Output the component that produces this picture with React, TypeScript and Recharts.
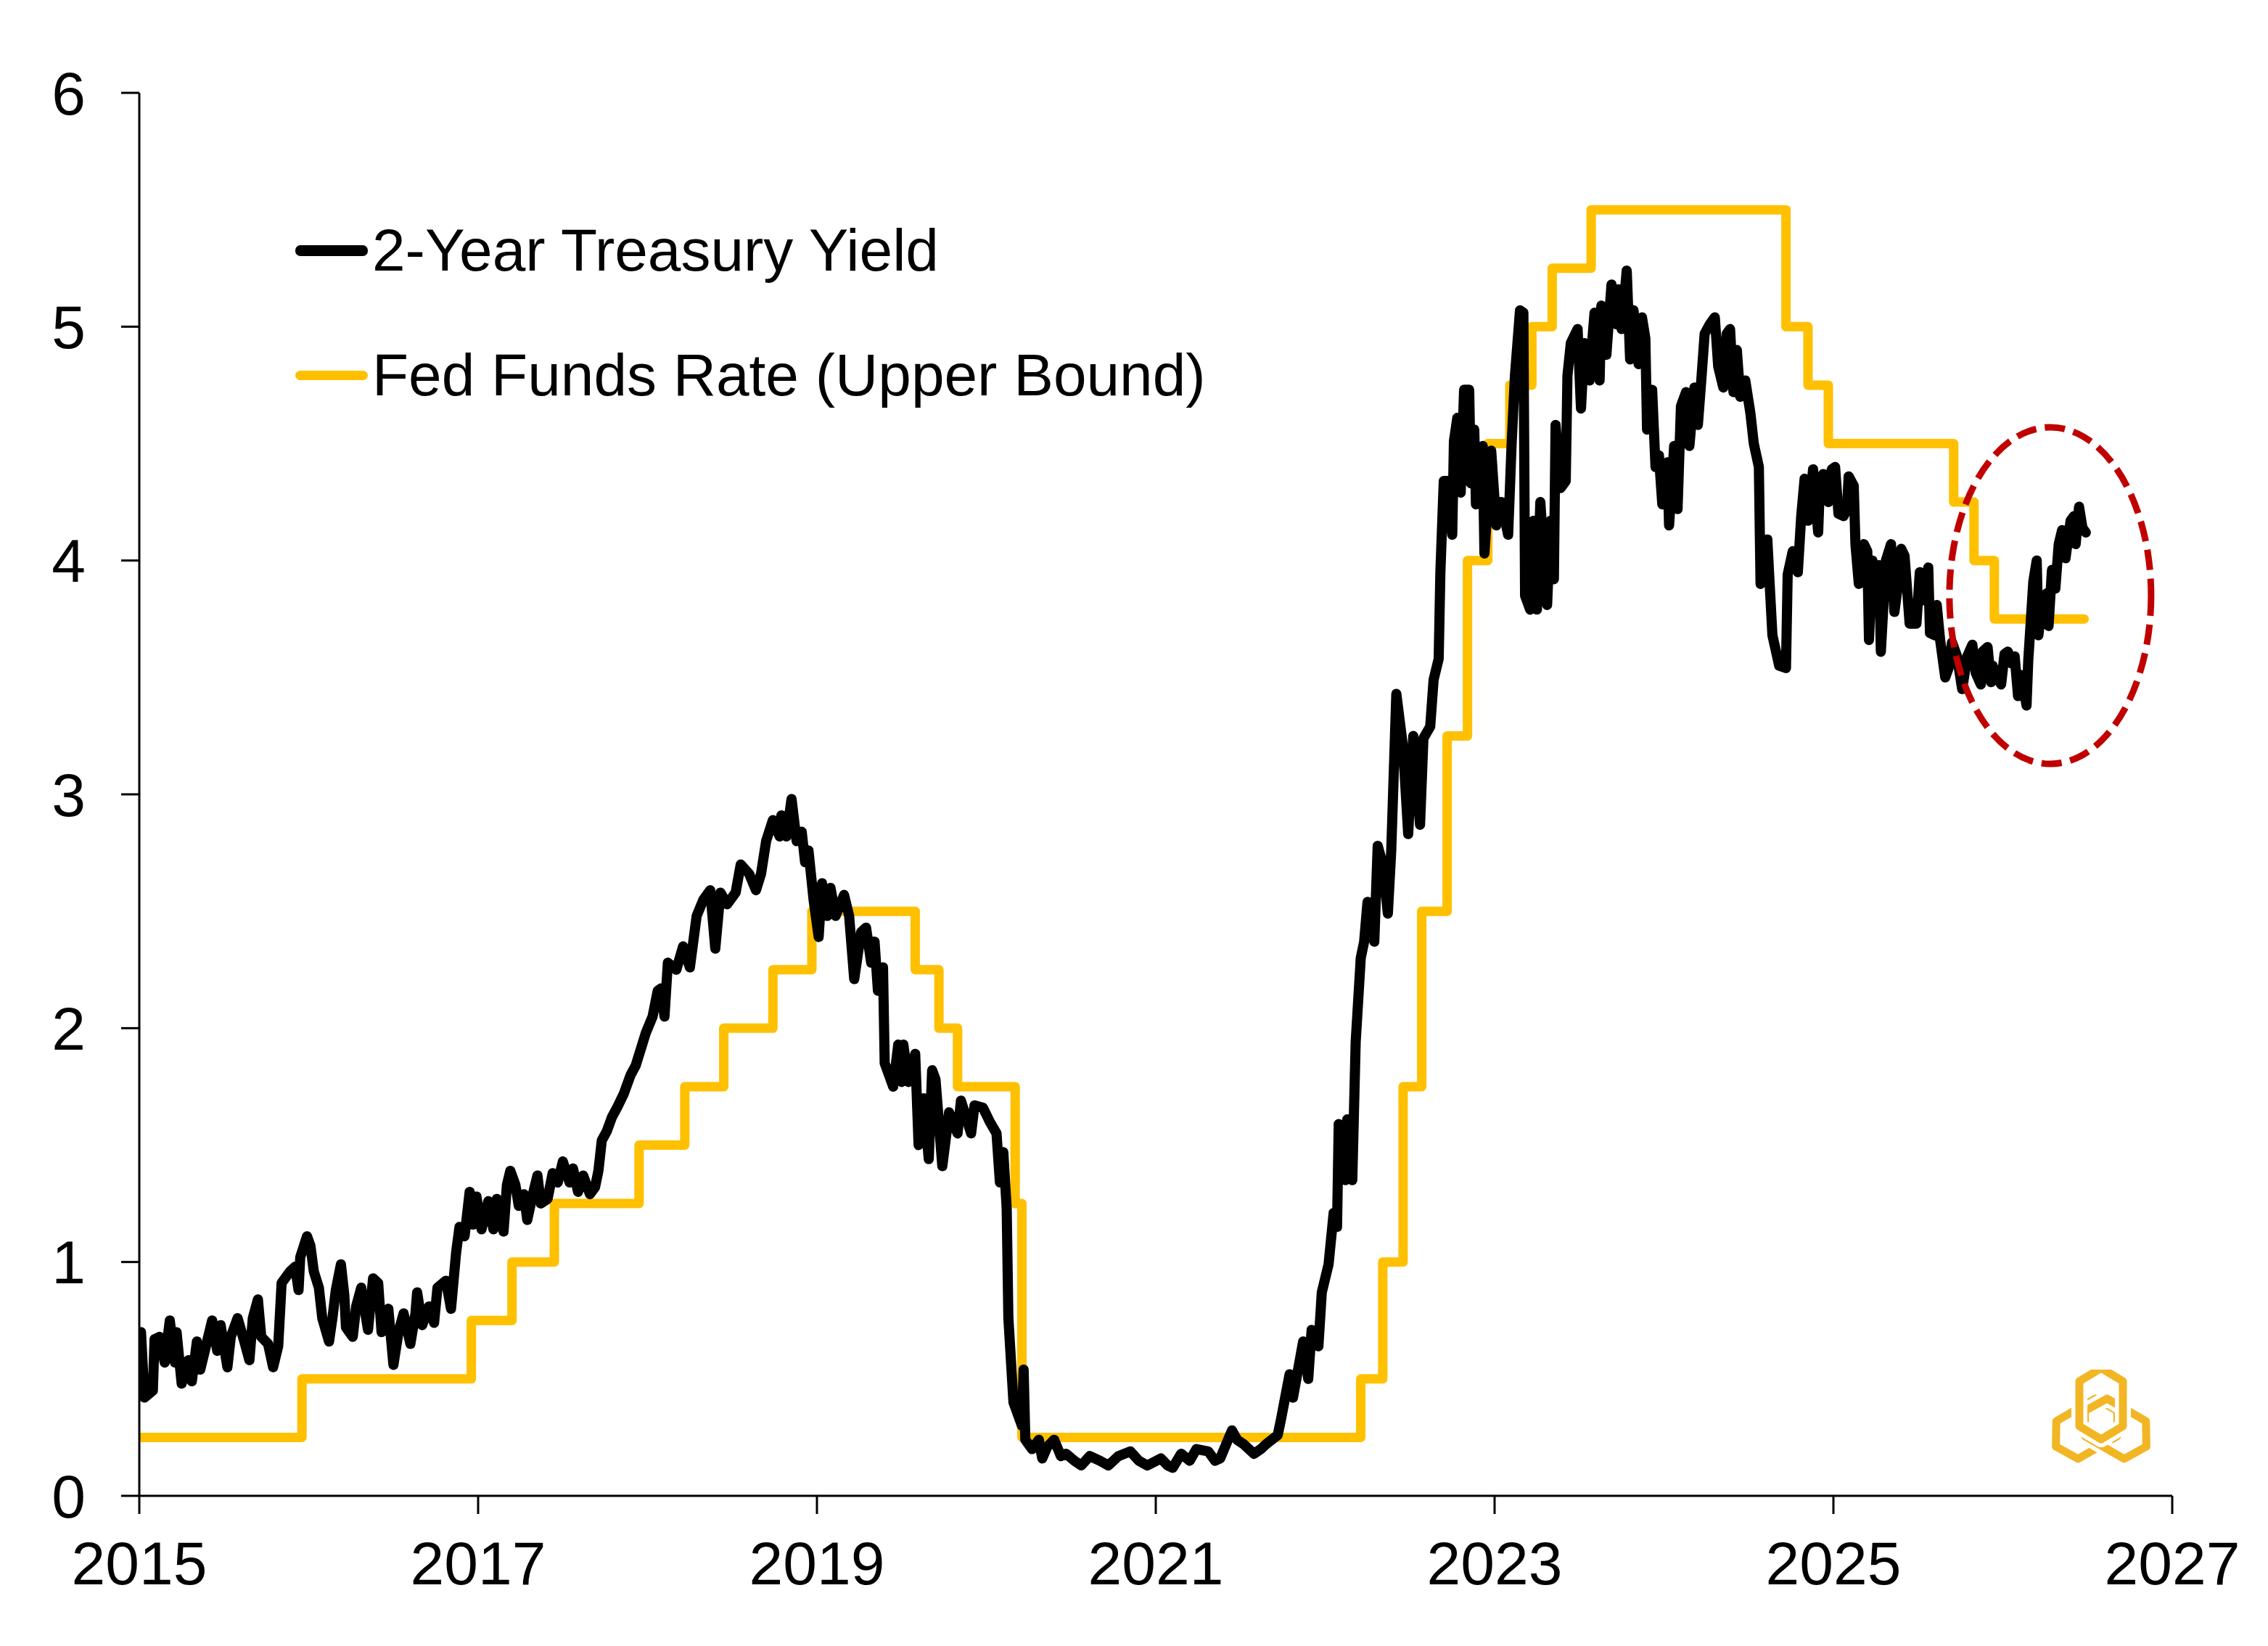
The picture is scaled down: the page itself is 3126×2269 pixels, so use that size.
import { Legend, Line, LineChart, ReferenceDot, XAxis, YAxis } from 'recharts';

const W = 3110;
const H = 2253;
const FONT = '"Liberation Sans", Arial, sans-serif';

const X_TICKS = [2015, 2017, 2019, 2021, 2023, 2025, 2027];
const Y_TICKS = [0, 1, 2, 3, 4, 5, 6];

// Fed funds target, upper bound (value holds from each date until the next)
const FED_DATES = [
  2015.0, 2015.96, 2016.96, 2017.2, 2017.45, 2017.95, 2018.22, 2018.45, 2018.74, 2018.97,
  2019.58, 2019.72, 2019.83, 2020.17, 2020.21, 2022.21, 2022.34, 2022.46, 2022.57, 2022.72,
  2022.84, 2022.96, 2023.09, 2023.22, 2023.34, 2023.57, 2024.72, 2024.85, 2024.97, 2025.71,
  2025.83, 2025.95, 2026.48,
];
const FED_VALUES = [
  0.25, 0.5, 0.75, 1.0, 1.25, 1.5, 1.75, 2.0, 2.25, 2.5,
  2.25, 2.0, 1.75, 1.25, 0.25, 0.5, 1.0, 1.75, 2.5, 3.25,
  4.0, 4.5, 4.75, 5.0, 5.25, 5.5, 5.0, 4.75, 4.5, 4.25,
  4.0, 3.75, 3.75,
];

// 2-year treasury yield
const YIELD_DATES = [
  2015.0, 2015.01, 2015.03, 2015.08, 2015.09, 2015.12, 2015.15, 2015.18, 2015.21, 2015.22,
  2015.25, 2015.29, 2015.31, 2015.34, 2015.36, 2015.4, 2015.43, 2015.46, 2015.48, 2015.52,
  2015.54, 2015.58, 2015.62, 2015.65, 2015.67, 2015.7, 2015.72, 2015.76, 2015.79, 2015.82,
  2015.84, 2015.89, 2015.92, 2015.94, 2015.95, 2015.99, 2016.01, 2016.03, 2016.06, 2016.08,
  2016.12, 2016.14, 2016.16, 2016.19, 2016.21, 2016.22, 2016.26, 2016.28, 2016.31, 2016.35,
  2016.38, 2016.41, 2016.43, 2016.47, 2016.5, 2016.53, 2016.56, 2016.6, 2016.63, 2016.64,
  2016.67, 2016.71, 2016.74, 2016.76, 2016.81, 2016.84, 2016.87, 2016.89, 2016.92, 2016.95,
  2016.97, 2016.99, 2017.02, 2017.06, 2017.09, 2017.11, 2017.15, 2017.17, 2017.19, 2017.22,
  2017.24, 2017.27, 2017.29, 2017.32, 2017.35, 2017.37, 2017.41, 2017.44, 2017.47, 2017.5,
  2017.54, 2017.56, 2017.59, 2017.62, 2017.66, 2017.69, 2017.71, 2017.73, 2017.76, 2017.79,
  2017.82, 2017.86, 2017.9, 2017.93, 2017.96, 2017.99, 2018.03, 2018.06, 2018.08, 2018.1,
  2018.12, 2018.17, 2018.21, 2018.25, 2018.29, 2018.33, 2018.37, 2018.4, 2018.43, 2018.47,
  2018.52, 2018.55, 2018.6, 2018.64, 2018.67, 2018.7, 2018.74, 2018.78, 2018.79, 2018.82,
  2018.85, 2018.88, 2018.91, 2018.93, 2018.95, 2018.98, 2019.01, 2019.03, 2019.06, 2019.08,
  2019.11, 2019.16, 2019.19, 2019.22, 2019.26, 2019.29, 2019.32, 2019.34, 2019.36, 2019.39,
  2019.4, 2019.45, 2019.48, 2019.5, 2019.51, 2019.54, 2019.58, 2019.6, 2019.63, 2019.66,
  2019.68, 2019.7, 2019.74, 2019.78, 2019.83, 2019.85, 2019.91, 2019.93, 2019.98, 2020.02,
  2020.06, 2020.08, 2020.1, 2020.12, 2020.13, 2020.16, 2020.21, 2020.22, 2020.23, 2020.27,
  2020.31, 2020.33, 2020.36, 2020.4, 2020.44, 2020.47, 2020.52, 2020.56, 2020.61, 2020.67,
  2020.72, 2020.78, 2020.85, 2020.9, 2020.95, 2021.03, 2021.07, 2021.1, 2021.15, 2021.2,
  2021.24, 2021.31, 2021.35, 2021.38, 2021.45, 2021.48, 2021.52, 2021.58, 2021.62, 2021.65,
  2021.72, 2021.74, 2021.79, 2021.81, 2021.87, 2021.9, 2021.92, 2021.96, 2021.98, 2022.02,
  2022.05, 2022.07, 2022.08, 2022.12, 2022.13, 2022.16, 2022.18, 2022.21, 2022.23, 2022.25,
  2022.29, 2022.31, 2022.34, 2022.37, 2022.39, 2022.42, 2022.46, 2022.49, 2022.52, 2022.56,
  2022.58, 2022.62, 2022.64, 2022.67, 2022.68, 2022.7, 2022.73, 2022.75, 2022.76, 2022.78,
  2022.8, 2022.82, 2022.85, 2022.86, 2022.88, 2022.89, 2022.93, 2022.94, 2022.98, 2023.01,
  2023.04, 2023.08, 2023.1, 2023.12, 2023.15, 2023.17, 2023.18, 2023.21, 2023.23, 2023.25,
  2023.27, 2023.31, 2023.33, 2023.35, 2023.36, 2023.39, 2023.42, 2023.43, 2023.45, 2023.49,
  2023.51, 2023.53, 2023.56, 2023.58, 2023.59, 2023.62, 2023.63, 2023.66, 2023.69, 2023.72,
  2023.73, 2023.75, 2023.78, 2023.8, 2023.82, 2023.85, 2023.87, 2023.89, 2023.9, 2023.93,
  2023.95, 2023.97, 2023.99, 2024.02, 2024.03, 2024.06, 2024.08, 2024.1, 2024.13, 2024.15,
  2024.18, 2024.2, 2024.22, 2024.24, 2024.27, 2024.3, 2024.32, 2024.35, 2024.37, 2024.39,
  2024.41, 2024.43, 2024.45, 2024.48, 2024.51, 2024.53, 2024.56, 2024.57, 2024.61, 2024.62,
  2024.64, 2024.68, 2024.72, 2024.73, 2024.76, 2024.79, 2024.81, 2024.83, 2024.85, 2024.88,
  2024.91, 2024.92, 2024.94, 2024.97, 2024.99, 2025.01, 2025.03, 2025.06, 2025.08, 2025.09,
  2025.12, 2025.13, 2025.15, 2025.18, 2025.2, 2025.21, 2025.23, 2025.25, 2025.27, 2025.28,
  2025.31, 2025.34, 2025.36, 2025.38, 2025.4, 2025.42, 2025.45, 2025.49, 2025.51, 2025.53,
  2025.56, 2025.57, 2025.6, 2025.61, 2025.63, 2025.66, 2025.68, 2025.7, 2025.73, 2025.76,
  2025.79, 2025.82, 2025.84, 2025.87, 2025.88, 2025.91, 2025.93, 2025.94, 2025.96, 2025.99,
  2026.01, 2026.03, 2026.05, 2026.07, 2026.09, 2026.11, 2026.14, 2026.15, 2026.18, 2026.2,
  2026.21, 2026.23, 2026.26, 2026.27, 2026.29, 2026.31, 2026.33, 2026.35, 2026.37, 2026.4,
  2026.42, 2026.43, 2026.45, 2026.47, 2026.49,
];
const YIELD_VALUES = [
  0.66, 0.7, 0.42, 0.45, 0.67, 0.68, 0.57, 0.75, 0.57, 0.7,
  0.48, 0.58, 0.49, 0.66, 0.54, 0.66, 0.75, 0.62, 0.73, 0.55,
  0.68, 0.76, 0.66, 0.58, 0.76, 0.84, 0.68, 0.65, 0.55, 0.64,
  0.91, 0.96, 0.98, 0.88, 1.02, 1.11, 1.07, 0.96, 0.89, 0.76,
  0.66, 0.76, 0.88, 0.99, 0.86, 0.72, 0.68, 0.81, 0.89, 0.71,
  0.93, 0.91, 0.7, 0.8, 0.56, 0.7, 0.78, 0.65, 0.78, 0.87,
  0.73, 0.81, 0.74, 0.89, 0.92, 0.8, 1.04, 1.15, 1.11, 1.3,
  1.16, 1.28, 1.14, 1.26, 1.14, 1.27, 1.13, 1.33, 1.39, 1.33,
  1.24, 1.29, 1.18, 1.28, 1.37, 1.25, 1.27, 1.38, 1.34, 1.43,
  1.34, 1.4, 1.3, 1.37, 1.29, 1.32, 1.39, 1.52, 1.56, 1.62,
  1.66, 1.72, 1.8, 1.84, 1.91, 1.98, 2.05, 2.16, 2.17, 2.05,
  2.28, 2.25, 2.35, 2.26, 2.48, 2.55, 2.59, 2.34, 2.58, 2.53,
  2.58, 2.7, 2.66, 2.59, 2.66, 2.8, 2.89, 2.82, 2.91, 2.82,
  2.98, 2.8, 2.84, 2.71, 2.76, 2.55, 2.39, 2.62, 2.48, 2.6,
  2.48, 2.57, 2.48, 2.21, 2.41, 2.43, 2.28, 2.37, 2.16, 2.26,
  1.85, 1.75, 1.93, 1.77, 1.93, 1.77, 1.89, 1.5, 1.7, 1.44,
  1.82, 1.78, 1.41, 1.64, 1.55, 1.69, 1.55, 1.67, 1.66, 1.6,
  1.55, 1.34, 1.47, 1.23, 0.76, 0.4, 0.3, 0.54, 0.24, 0.2,
  0.24, 0.16, 0.21, 0.24, 0.17, 0.18, 0.15, 0.13, 0.17, 0.15,
  0.13, 0.17, 0.19, 0.15, 0.13, 0.16, 0.13, 0.12, 0.18, 0.15,
  0.2, 0.19, 0.15, 0.16, 0.28, 0.24, 0.22, 0.18, 0.2, 0.22,
  0.26, 0.33, 0.52, 0.42, 0.66, 0.5, 0.71, 0.64, 0.87, 0.99,
  1.21, 1.15, 1.59, 1.35, 1.61, 1.35, 1.94, 2.3, 2.37, 2.54,
  2.37, 2.78, 2.7, 2.49, 2.76, 3.43, 3.2, 2.83, 3.25, 2.87,
  3.24, 3.29, 3.49, 3.58, 3.95, 4.34, 4.34, 4.11, 4.51, 4.61,
  4.29, 4.73, 4.73, 4.33, 4.56, 4.24, 4.49, 4.03, 4.47, 4.15,
  4.25, 4.11, 4.49, 4.79, 5.07, 5.06, 3.85, 3.79, 4.17, 3.79,
  4.25, 3.81, 4.17, 3.92, 4.58, 4.31, 4.34, 4.79, 4.93, 4.99,
  4.65, 4.93, 4.77, 4.97, 5.06, 4.77, 5.09, 4.88, 5.18, 5.01,
  5.16, 4.99, 5.24, 4.86, 5.07, 4.84, 5.04, 4.95, 4.56, 4.73,
  4.4, 4.45, 4.24, 4.42, 4.15, 4.49, 4.22, 4.66, 4.72, 4.49,
  4.74, 4.58, 4.77, 4.97, 5.01, 5.04, 4.83, 4.74, 4.97, 4.99,
  4.72, 4.9, 4.7, 4.77, 4.63, 4.5, 4.4, 3.9, 4.09, 3.95,
  3.68, 3.55, 3.54, 3.94, 4.04, 3.95, 4.19, 4.35, 4.17, 4.39,
  4.12, 4.32, 4.37, 4.25, 4.39, 4.4, 4.2, 4.19, 4.22, 4.36,
  4.32, 4.07, 3.9, 4.07, 4.04, 3.66, 4.0, 3.94, 3.98, 3.61,
  4.0, 4.07, 3.78, 3.89, 4.05, 4.02, 3.73, 3.73, 3.95, 3.83,
  3.97, 3.69, 3.68, 3.81, 3.66, 3.5, 3.54, 3.65, 3.59, 3.45,
  3.59, 3.64, 3.52, 3.47, 3.61, 3.63, 3.48, 3.55, 3.51, 3.47,
  3.6, 3.61, 3.56, 3.59, 3.42, 3.51, 3.38, 3.57, 3.91, 4.0,
  3.68, 3.81, 3.86, 3.72, 3.96, 3.88, 4.07, 4.13, 4.01, 4.17,
  4.19, 4.07, 4.23, 4.14, 4.12,
];

// dashed ring around the latest readings
const HIGHLIGHT = { t: 2026.28, v: 3.85 };

const LEGEND_ORDER = ['2-Year Treasury Yield', 'Fed Funds Rate (Upper Bound)'];

const fedRows = FED_DATES.map((t, i) => ({ t, v: FED_VALUES[i] }));
const yieldRows = YIELD_DATES.map((t, i) => ({ t, v: YIELD_VALUES[i] }));

const axisStroke = { stroke: '#000', strokeWidth: 3 };
const tickStyle = { fontSize: 84, fill: '#000', fontFamily: FONT };

function LegendBox({ payload }: any) {
  const items = [...(payload ?? [])].sort(
    (a: any, b: any) => LEGEND_ORDER.indexOf(a.value) - LEGEND_ORDER.indexOf(b.value),
  );
  return (
    <div>
      {items.map((it: any) => (
        <div key={it.value} style={{ display: 'flex', alignItems: 'center', height: 172 }}>
          <span
            style={{
              display: 'inline-block',
              width: 100,
              height: it.color === '#000000' ? 15 : 13,
              borderRadius: 7,
              background: it.color,
              marginRight: 6,
            }}
          />
          <span style={{ fontSize: 82, color: '#000', fontFamily: FONT, whiteSpace: 'nowrap' }}>{it.value}</span>
        </div>
      ))}
    </div>
  );
}

function Ring({ angle }: { angle: number }) {
  const d = 'M70 -2 L100 16 L100 78 L70 96 L40 78 L40 16 Z';
  return (
    <g transform={`rotate(${angle} 70 70)`}>
      <path d={d} fill="none" stroke="#fff" strokeWidth={22} strokeLinejoin="round" />
      <path d={d} fill="none" stroke="#F2B624" strokeWidth={11} strokeLinejoin="round" />
    </g>
  );
}

export default function App() {
  return (
    <div style={{ position: 'relative', width: W, height: H, background: '#fff', fontFamily: FONT }}>
      <LineChart width={W} height={H} margin={{ top: 120, right: 124, bottom: 0, left: 0 }}>
        <XAxis
          type="number"
          dataKey="t"
          domain={[2015, 2027]}
          ticks={X_TICKS}
          interval={0}
          allowDataOverflow
          height={199}
          tickSize={25}
          tickMargin={37}
          tick={tickStyle}
          tickLine={axisStroke}
          axisLine={axisStroke}
        />
        <YAxis
          type="number"
          domain={[0, 6]}
          ticks={Y_TICKS}
          interval={0}
          width={184}
          tickSize={25}
          tickMargin={49}
          tick={tickStyle}
          tickLine={axisStroke}
          axisLine={axisStroke}
        />
        <Legend
          layout="vertical"
          align="center"
          verticalAlign="middle"
          content={<LegendBox />}
          wrapperStyle={{ position: 'absolute', left: 399, top: 251, width: 'auto', height: 'auto' }}
        />
        <Line
          data={fedRows}
          dataKey="v"
          name="Fed Funds Rate (Upper Bound)"
          type="stepAfter"
          stroke="#FFC000"
          strokeWidth={13}
          strokeLinejoin="round"
          strokeLinecap="round"
          dot={false}
          activeDot={false}
          isAnimationActive={false}
        />
        <Line
          data={yieldRows}
          dataKey="v"
          name="2-Year Treasury Yield"
          type="linear"
          stroke="#000000"
          strokeWidth={14}
          strokeLinejoin="round"
          strokeLinecap="round"
          dot={false}
          activeDot={false}
          isAnimationActive={false}
        />
        <ReferenceDot
          x={HIGHLIGHT.t}
          y={HIGHLIGHT.v}
          shape={(p: any) => (
            <ellipse
              cx={p.cx}
              cy={p.cy}
              rx={139}
              ry={232}
              fill="none"
              stroke="#C00000"
              strokeWidth={9}
              strokeDasharray="28 12"
            />
          )}
        />
      </LineChart>
      <svg width={140} height={140} style={{ position: 'absolute', left: 2818, top: 1880 }} viewBox="0 0 140 140">
        <Ring angle={240} />
        <Ring angle={120} />
        <Ring angle={0} />
      </svg>
    </div>
  );
}
